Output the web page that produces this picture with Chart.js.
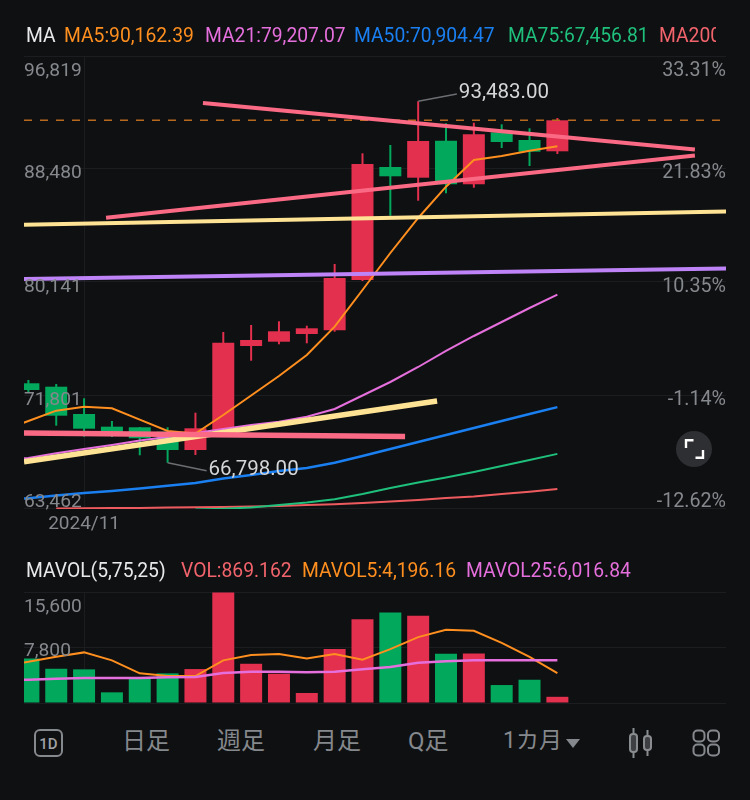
<!DOCTYPE html>
<html>
<head>
<meta charset="utf-8">
<script src="https://cdn.jsdelivr.net/npm/chart.js@4/dist/chart.umd.min.js"></script>
<style>
  html, body { margin: 0; background: #0f1012; }
  #page { position: relative; width: 750px; height: 800px; overflow: hidden; background: #0f1012;
    font-family: Roboto, "Noto Sans CJK JP", sans-serif; }
  canvas { position: absolute; left: 0; }
  .row { position: absolute; left: 0; height: 24px; line-height: 24px; font-size: 19.3px; white-space: nowrap; overflow: hidden; }
  .row span, .foot { position: absolute; top: 0; }
  .foot { color: #85888c; font-size: 24px; line-height: 30px; top: 726px; white-space: nowrap; }
  svg { position: absolute; }
</style>
</head>
<body>
<div id="page">
  <canvas id="priceChart" width="750" height="540" style="top:0"></canvas>
  <canvas id="volChart" width="750" height="140" style="top:580px"></canvas>

  <div class="row" id="maRow" style="top:24px;width:716px"></div>
  <div class="row" id="volRow" style="top:559px;width:750px"></div>

  <svg style="left:676px;top:431px" width="36" height="36" viewBox="0 0 36 36">
    <circle cx="18" cy="18" r="18" fill="#2e2f32"/>
    <path d="M10 17v-7.800h7.500M27 19v7.800h-7.500" fill="none" stroke="#fff" stroke-width="2.400"/>
  </svg>

  <svg style="left:34px;top:729px" width="29" height="28" viewBox="0 0 29 28">
    <rect x="1" y="1" width="27" height="26" rx="5" fill="none" stroke="#85888c" stroke-width="2"/>
    <text x="14.5" y="19.500" text-anchor="middle" font-family="Roboto" font-weight="500" font-size="15" fill="#a0a2a5">1D</text>
  </svg>
  <div class="foot" style="left:122px">日足</div>
  <div class="foot" style="left:217px">週足</div>
  <div class="foot" style="left:313px">月足</div>
  <div class="foot" style="left:408px">Q足</div>
  <div class="foot" style="left:503px;font-size:23px">1カ月</div>
  <svg style="left:566px;top:739px" width="14" height="9" viewBox="0 0 14 9"><path d="M0 0h14L7 9z" fill="#85888c"/></svg>
  <svg style="left:627px;top:727px" width="28" height="32" viewBox="0 0 28 32" stroke="#8a8d90" stroke-width="2">
    <rect x="3" y="7" width="7" height="18" rx="3" fill="#3d3f42"/><path d="M6.500 1v6M6.500 25v6"/>
    <rect x="17" y="9" width="7" height="14" rx="3" fill="#3d3f42"/><path d="M20.500 3v6M20.500 23v6"/>
  </svg>
  <svg style="left:691px;top:729px" width="30" height="28" viewBox="0 0 30 28" fill="none" stroke="#85888c" stroke-width="2">
    <rect x="2.500" y="1.500" width="11" height="11" rx="4"/><rect x="17" y="1.500" width="11" height="11" rx="4"/>
    <rect x="2.500" y="15.500" width="11" height="11" rx="4"/><rect x="17" y="15.500" width="11" height="11" rx="4"/>
  </svg>
</div>

<script>
// candles, oldest first. index 0 is the half hidden one on the left edge
const opens  = [72666,72414,70400,69463,69419,69094,67743,69094,75418,75735,76304,76577,80289,88628,87838,90568,87351,91188,90620,89786];
const closes = [72171,70274,69315,68850,68607,67743,69345,75662,75861,76503,76724,80436,88849,87941,90546,87351,91041,90473,89757,92074];
const highs  = [72909,72614,71559,69883,69441,69419,70496,76451,76968,77241,76916,81469,89639,90251,93483,91853,91897,91779,91484,92244];
const lows   = [72024,69537,68725,68703,67352,66798,67374,69094,74333,75543,75617,76473,80215,85034,86141,86687,87100,90030,88701,89587];
const volumes = [6270,4812,4728,1500,3550,4167,4770,15530,5514,4111,1403,7576,11785,12725,12248,6917,6973,2525,3269,869.162];

// moving averages start one bar before the first candle so they reach the left edge
const ma5   = [69109,69883,70644,70939,70821,69979,69145,68961,70326,71765,73204,74754,76842,79551,82281,84864,87174,89144,89439,89831,90162.39];
const ma21  = [67005,67153,67500,67817,68112,68444,68703,68998,69293,69588,69832,70201,70769,71765,72761,73868,75049,76156,77189,78222,79207.07];
const ma50  = [64090,64179,64386,64570,64718,64902,65109,65308,65640,65898,66194,66415,66806,67301,67817,68334,68850,69367,69883,70400,70904.47];
const ma75  = [null,null,null,null,null,null,null,63352,63404,63500,63685,63869,64105,64496,64939,65345,65714,66120,66563,67005,67456.81];
const ma200 = [null,null,63426,63441,63463,63470,63493,63515,63537,63574,63611,63685,63736,63832,63943,64054,64201,64312,64496,64666,64865];
const mavol5  = [5200,5794,6496,7113,5991,4167,3788,3788,5991,6734,6875,6271,6875,6075,7576,9260,10284,10144,8460,6496,4196.16];
const mavol25 = [3200,3269,3409,3507,3507,3507,3606,3648,4209,4391,4391,4307,4391,4728,5051,5654,5851,5991,5991,6000,6016.84];

const priceTicks = [63462,71801,80141,88480,96819];
const pctTicks = [-12.62,-1.14,10.35,21.83,33.31];
const volTicks = [0,7800,15600];
const monthTickIndex = [2];
const monthTickLabels = ['2024/11'];

// hand drawn lines on the chart: [bar index, price] at both ends
const trendTop     = [[6.27,93351],[23.94,89919]];
const trendLow     = [[2.79,84886],[23.94,89484]];
const trendYellow  = [[-0.158,84362],[25.057,85344]];
const trendPurple  = [[-0.158,80362],[25.057,81130]];
const trendYellow2 = [[-0.158,66880],[14.68,71359]];
const trendPink2   = [[-0.158,68998],[13.53,68732]];

// leader lines for the high and low labels
const highLeader = [[14,93483],[15.39,94015]];
const lowLeader  = [[5,66798],[6.4,66216]];

const maLegend = [['MA',26,'#e8e9ea'],['MA5:90,162.39',64,'#ff8f1f'],['MA21:79,207.07',205,'#e56fdc'],['MA50:70,904.47',354,'#1a7ff0'],['MA75:67,456.81',508,'#1fbf7c'],['MA200:',659,'#f2646c']];
const volLegend = [['MAVOL(5,75,25)',26,'#e8e9ea'],['VOL:869.162',181,'#f2646c'],['MAVOL5:4,196.16',302,'#ff8f1f'],['MAVOL25:6,016.84',466,'#e56fdc']];

const RED = '#e2304e';
const GREEN = '#02a85c';
const GRID = '#1b1d20';
const LABEL = '#85888c';
const X_MIN = -0.158;
const X_MAX = 25.057;

function fillRow(id, items) {
  const row = document.getElementById(id);
  items.forEach(([text, left, color]) => {
    const s = document.createElement('span');
    s.textContent = text;
    s.style.left = left + 'px';
    s.style.color = color;
    row.appendChild(s);
  });
}
fillRow('maRow', maLegend);
fillRow('volRow', volLegend);

const candleIndex = opens.map((_, i) => i);
const lineIndex = [-1, ...candleIndex];
const candleColors = opens.map((o, i) => closes[i] >= o ? RED : GREEN);

function lineSet(values, color, width, order) {
  return {
    type: 'line', data: values.map((v, i) => ({ x: lineIndex[i], y: v })),
    borderColor: color, borderWidth: width, pointRadius: 0, tension: 0,
    order, clip: { left: 0, right: 0, top: 0, bottom: 1 }
  };
}

function segment(points, color, width, order, dash) {
  return {
    type: 'line', data: points.map(p => ({ x: p[0], y: p[1] })),
    borderColor: color, borderWidth: width, borderDash: dash || [], pointRadius: 0, order, clip: 0
  };
}

function barSet(lo, hi, thickness, order) {
  return {
    type: 'bar', data: candleIndex.map(i => ({ x: i, y: [lo[i], hi[i]] })),
    backgroundColor: candleColors, borderWidth: 0, barThickness: thickness,
    grouped: false, inflateAmount: 0, order, clip: 0
  };
}

function fixedTicks(values) {
  return scale => { scale.ticks = values.map(v => ({ value: v })); };
}

function fixedSize(key, size) {
  return scale => { scale[key] = size; };
}

const money = v => v.toLocaleString('en-US');
const money2 = v => v.toLocaleString('en-US', { minimumFractionDigits: 2 });

// tick labels hug the plot edges in the app, so they are drawn here with a nudge
const edgeLabels = {
  id: 'edgeLabels',
  afterDatasetsDraw(chart, args, opts) {
    const ctx = chart.ctx;
    ctx.save();
    ctx.textBaseline = 'middle';
    ctx.fillStyle = LABEL;
    opts.axes.forEach(a => {
      const scale = chart.scales[a.id];
      ctx.font = a.font;
      ctx.textAlign = a.align;
      scale.ticks.forEach((t, i) => {
        if (a.nudge[i] === null) return;
        const y = scale.getPixelForValue(t.value) + a.nudge[i];
        ctx.fillText(a.format(t.value), a.x, y);
      });
    });
    ctx.textAlign = 'left';
    ctx.fillStyle = '#d4d6d8';
    ctx.font = '20.5px Roboto';
    (opts.notes || []).forEach(n => {
      const x = chart.scales.x.getPixelForValue(n.at[0]) + 2;
      const y = chart.scales.y.getPixelForValue(n.at[1]) - 1;
      ctx.fillText(n.text, x, y);
    });
    ctx.restore();
  }
};

const monthAxis = {
  type: 'linear', min: X_MIN, max: X_MAX, offset: false,
  afterBuildTicks: fixedTicks(monthTickIndex),
  grid: { color: GRID, drawTicks: false, offset: false },
  border: { display: false }
};

new Chart(document.getElementById('priceChart'), {
  type: 'bar',
  data: {
    datasets: [
      barSet(lows, highs, 2, 21),
      barSet(opens, closes, 22, 20),
      segment([[X_MIN, closes[19]], [X_MAX, closes[19]]], '#b9691f', 1.5, 19, [8, 8]),
      lineSet(ma200, '#ee5b5f', 2, 15),
      lineSet(ma75, '#1fbf7c', 2, 14),
      lineSet(ma50, '#1a7ff0', 2.5, 13),
      lineSet(ma21, '#e56fdc', 2, 12),
      lineSet(ma5, '#ff8f1f', 2, 11),
      segment(highLeader, '#6c6e72', 1.5, 10),
      segment(lowLeader, '#6c6e72', 1.5, 10),
      segment(trendPurple, '#bd83f7', 4, 6),
      segment(trendYellow, '#ffe394', 4, 5),
      segment(trendYellow2, '#ffe394', 5.5, 4),
      segment(trendLow, '#fb6a85', 4, 3),
      segment(trendTop, '#fb6a85', 4, 2),
      segment(trendPink2, '#fb6a85', 5.5, 1)
    ]
  },
  options: {
    responsive: false,
    animation: false,
    events: [],
    layout: { padding: { left: 24, right: 24, top: 56, bottom: 0 } },
    scales: {
      x: {
        ...monthAxis,
        afterFit: fixedSize('height', 32),
        ticks: {
          autoSkip: false, maxRotation: 0, padding: 5, color: LABEL, font: { family: 'Roboto', size: 19 },
          callback: v => monthTickLabels[monthTickIndex.indexOf(v)]
        }
      },
      y: {
        min: priceTicks[0], max: priceTicks[4], position: 'left',
        afterBuildTicks: fixedTicks(priceTicks),
        afterFit: fixedSize('width', 0),
        ticks: { display: false },
        grid: { color: GRID, drawTicks: false },
        border: { display: false }
      },
      pct: {
        min: pctTicks[0], max: pctTicks[4], position: 'right',
        afterBuildTicks: fixedTicks(pctTicks),
        afterFit: fixedSize('width', 0),
        ticks: { display: false },
        grid: { display: false },
        border: { display: false }
      }
    },
    plugins: {
      legend: { display: false },
      tooltip: { enabled: false },
      edgeLabels: {
        axes: [
          { id: 'y', x: 24, align: 'left', font: '19.2px Roboto', nudge: [-6, 5, 5, 4, 15], format: money },
          { id: 'pct', x: 726, align: 'right', font: '19.7px Roboto', nudge: [-6, 5, 5, 4, 15], format: v => v.toFixed(2) + '%' }
        ],
        notes: [
          { at: highLeader[1], text: money2(Math.max(...highs)) },
          { at: lowLeader[1], text: money2(Math.min(...lows)) }
        ]
      }
    }
  },
  plugins: [edgeLabels]
});

const volSets = {
  datasets: [
    { type: 'bar', data: candleIndex.map(i => ({ x: i, y: volumes[i] })), backgroundColor: candleColors,
      borderWidth: 0, barThickness: 22, inflateAmount: 0, order: 3, clip: 0 },
    lineSet(mavol5, '#ff8f1f', 2, 2),
    lineSet(mavol25, '#e56fdc', 2.5, 1)
  ]
};

new Chart(document.getElementById('volChart'), {
  type: 'bar',
  data: volSets,
  options: {
    responsive: false,
    animation: false,
    events: [],
    layout: { padding: { left: 24, right: 24, top: 12, bottom: 17 } },
    scales: {
      x: { ...monthAxis, afterFit: fixedSize('height', 0), ticks: { display: false } },
      y: {
        min: volTicks[0], max: volTicks[2], position: 'left',
        afterBuildTicks: fixedTicks(volTicks),
        afterFit: fixedSize('width', 0),
        ticks: { display: false },
        grid: { color: GRID, drawTicks: false },
        border: { display: false }
      }
    },
    plugins: {
      legend: { display: false },
      tooltip: { enabled: false },
      edgeLabels: {
        axes: [{ id: 'y', x: 24, align: 'left', font: '19.2px Roboto', nudge: [null, 4, 15], format: money }]
      }
    }
  },
  plugins: [edgeLabels]
});
</script>
</body>
</html>
